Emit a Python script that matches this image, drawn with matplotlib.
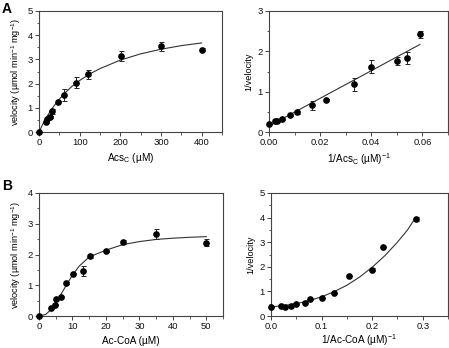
import matplotlib
matplotlib.use("Agg")
import matplotlib.pyplot as plt
from matplotlib.ticker import MultipleLocator

narrow = ['Liberation Sans Narrow', 'Liberation Sans', 'DejaVu Sans']
regular = ['Liberation Sans', 'DejaVu Sans']
plt.rcParams['font.family'] = narrow
plt.rcParams['mathtext.fontset'] = 'custom'
plt.rcParams['mathtext.rm'] = 'Liberation Sans Narrow'
plt.rcParams['mathtext.it'] = 'Liberation Sans Narrow'

# Panel A, saturation curve for Acs_C
acs_x = [0, 17, 20, 26, 31, 46, 61, 91, 121, 201, 300, 400]
acs_v = [0, 0.43, 0.55, 0.62, 0.86, 1.26, 1.53, 2.03, 2.38, 3.14, 3.54, 3.40]
acs_err = [0, 0.04, 0.04, 0.05, 0.11, 0.03, 0.26, 0.23, 0.2, 0.19, 0.19, 0.07]
acs_fit_x = [0, 10, 20, 30, 45, 60, 80, 100, 125, 150, 200, 250, 300, 350, 400]
acs_fit_y = [0, 0.35, 0.65, 0.92, 1.26, 1.55, 1.87, 2.13, 2.40, 2.62, 2.97, 3.23, 3.42, 3.57, 3.68]

# Panel A, double reciprocal
acs_inv_x = [0, 0.0025, 0.0033, 0.005, 0.0083, 0.011, 0.0167, 0.0222, 0.0333, 0.04, 0.05, 0.054, 0.059]
acs_inv_y = [0.2, 0.28, 0.28, 0.31, 0.42, 0.49, 0.66, 0.79, 1.18, 1.62, 1.76, 1.83, 2.42]
acs_inv_err = [0, 0.02, 0.02, 0.02, 0.03, 0.04, 0.12, 0.02, 0.16, 0.16, 0.1, 0.15, 0.08]
acs_line_x = [0, 0.059]
acs_line_y = [0.15, 2.17]

# Panel B, saturation curve for Ac-CoA
coa_x = [0, 3.6, 4.7, 5.2, 6.5, 8.1, 10.1, 13.1, 15.1, 20.1, 25.1, 35.1, 50]
coa_v = [0, 0.26, 0.37, 0.54, 0.62, 1.07, 1.38, 1.46, 1.96, 2.11, 2.40, 2.66, 2.39]
coa_err = [0, 0.02, 0.02, 0.03, 0.04, 0.02, 0.03, 0.16, 0.06, 0.03, 0.07, 0.17, 0.12]
coa_fit_x = [0, 2, 4, 5, 6, 8, 10, 12, 15, 20, 25, 30, 35, 40, 45, 50]
coa_fit_y = [0, 0.05, 0.25, 0.42, 0.6, 0.97, 1.33, 1.62, 1.92, 2.14, 2.32, 2.42, 2.49, 2.53, 2.56, 2.58]

# Panel B, double reciprocal
coa_inv_x = [0, 0.02, 0.0286, 0.04, 0.05, 0.067, 0.077, 0.1, 0.125, 0.154, 0.2, 0.222, 0.286]
coa_inv_y = [0.37, 0.41, 0.37, 0.41, 0.47, 0.52, 0.68, 0.72, 0.94, 1.64, 1.89, 2.8, 3.95]
coa_inv_err = [0, 0, 0, 0, 0, 0, 0, 0, 0, 0, 0.07, 0, 0.08]
coa_curve_x = [0, 0.025, 0.05, 0.075, 0.1, 0.125, 0.15, 0.175, 0.2, 0.225, 0.25, 0.27, 0.286]
coa_curve_y = [0.37, 0.42, 0.5, 0.62, 0.78, 0.99, 1.25, 1.58, 1.98, 2.45, 3.0, 3.5, 4.0]

fig = plt.figure(figsize=(4.49, 3.48), dpi=100)

ax1 = fig.add_axes([39/449, 1 - 132/348, 183/449, 121/348])
ax2 = fig.add_axes([269/449, 1 - 132/348, 179/449, 121/348])
ax3 = fig.add_axes([39/449, 1 - 316/348, 184/449, 123/348])
ax4 = fig.add_axes([271/449, 1 - 316/348, 177/449, 123/348])

frame = '#444444'
for ax in (ax1, ax2, ax3, ax4):
    for s in ax.spines.values():
        s.set_color(frame)
        s.set_linewidth(0.8)
    ax.tick_params(direction='out', length=3, width=0.7, color=frame,
                   labelsize=6.8, pad=1.5, labelcolor='#111111')
    ax.tick_params(which='minor', direction='out', length=1.8, width=0.6, color=frame)

def draw(ax, x, y, err, lx, ly):
    ax.plot(lx, ly, color='#333333', lw=0.8, zorder=2)
    ax.errorbar(x, y, yerr=err, fmt='o', color='black', ms=3.8,
                ecolor='#222222', elinewidth=0.7, capsize=1.8, capthick=0.7,
                zorder=3, clip_on=False)

vel_label = r'velocity (µmol min$^\mathregular{-1}$ mg$^\mathregular{-1}$)'

draw(ax1, acs_x, acs_v, acs_err, acs_fit_x, acs_fit_y)
ax1.set_xlim(0, 450)
ax1.set_ylim(0, 5)
ax1.xaxis.set_major_locator(MultipleLocator(100))
ax1.xaxis.set_minor_locator(MultipleLocator(50))
ax1.yaxis.set_major_locator(MultipleLocator(1))
ax1.yaxis.set_minor_locator(MultipleLocator(0.5))
ax1.set_xlabel(r'Acs$_\mathregular{C}$ (µM)', fontsize=7.2, labelpad=3)
ax1.set_ylabel(vel_label, fontsize=6.6, labelpad=3, family=regular)

draw(ax2, acs_inv_x, acs_inv_y, acs_inv_err, acs_line_x, acs_line_y)
ax2.set_xlim(0, 0.07)
ax2.set_ylim(0, 3)
ax2.xaxis.set_major_locator(MultipleLocator(0.02))
ax2.xaxis.set_minor_locator(MultipleLocator(0.01))
ax2.xaxis.set_major_formatter(lambda v, p: f'{v:.2f}')
ax2.yaxis.set_major_locator(MultipleLocator(1))
ax2.yaxis.set_minor_locator(MultipleLocator(0.5))
ax2.set_xlabel(r'1/Acs$_\mathregular{C}$ (µM)$^\mathregular{-1}$', fontsize=7.2, labelpad=3)
ax2.set_ylabel('1/velocity', fontsize=6.6, labelpad=3, family=regular)

draw(ax3, coa_x, coa_v, coa_err, coa_fit_x, coa_fit_y)
ax3.set_xlim(0, 55)
ax3.set_ylim(0, 4)
ax3.xaxis.set_major_locator(MultipleLocator(10))
ax3.xaxis.set_minor_locator(MultipleLocator(5))
ax3.yaxis.set_major_locator(MultipleLocator(1))
ax3.yaxis.set_minor_locator(MultipleLocator(0.5))
ax3.set_xlabel('Ac-CoA (µM)', fontsize=7.2, labelpad=3.5)
ax3.set_ylabel(vel_label, fontsize=6.6, labelpad=3, family=regular)

draw(ax4, coa_inv_x, coa_inv_y, coa_inv_err, coa_curve_x, coa_curve_y)
ax4.set_xlim(0, 0.35)
ax4.set_ylim(0, 5)
ax4.xaxis.set_major_locator(MultipleLocator(0.1))
ax4.xaxis.set_minor_locator(MultipleLocator(0.05))
ax4.xaxis.set_major_formatter(lambda v, p: f'{v:.1f}')
ax4.yaxis.set_major_locator(MultipleLocator(1))
ax4.yaxis.set_minor_locator(MultipleLocator(0.5))
ax4.set_xlabel(r'1/Ac-CoA (µM)$^\mathregular{-1}$', fontsize=7.2, labelpad=0.5)
ax4.set_ylabel('1/velocity', fontsize=6.6, labelpad=3, family=regular)

fig.text(2/449, 1 - 13/348, 'A', fontsize=10, fontweight='bold', family=regular)
fig.text(2/449, 1 - 190/348, 'B', fontsize=10, fontweight='bold', family=regular)

fig.savefig('out.png', dpi=100)
